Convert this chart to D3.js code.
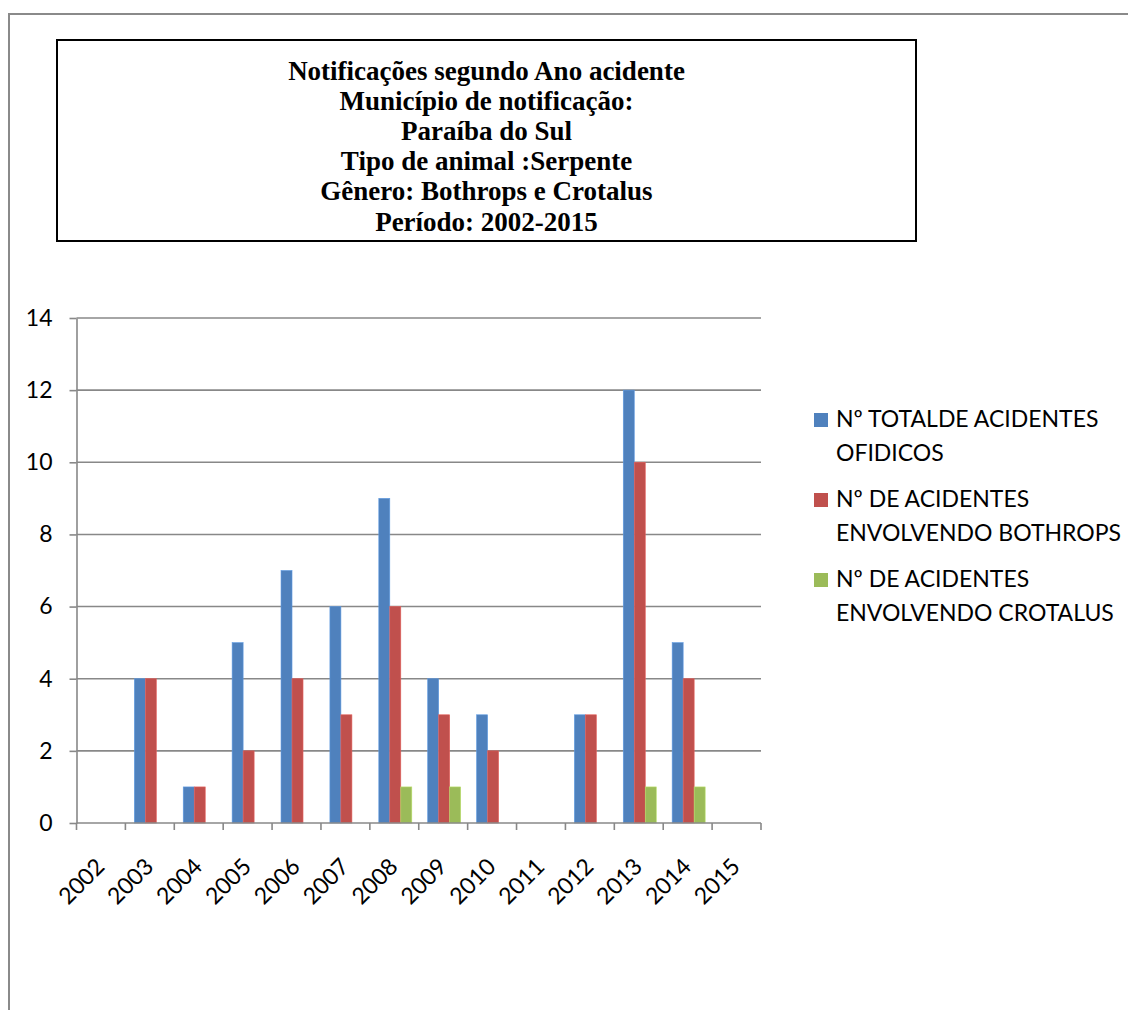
<!DOCTYPE html>
<html>
<head>
<meta charset="utf-8">
<script src="https://cdn.jsdelivr.net/npm/d3@7"></script>
<style>
  html, body { margin: 0; padding: 0; background: #fff; }
  svg { display: block; }
</style>
</head>
<body>
<svg id="chart" width="1128" height="1010"></svg>
<script>
// Chart data
const years = ["2002","2003","2004","2005","2006","2007","2008","2009","2010","2011","2012","2013","2014","2015"];
const totalOfidicos = [0, 4, 1, 5, 7, 6, 9, 4, 3, 0, 3, 12, 5, 0];
const bothrops      = [0, 4, 1, 2, 4, 3, 6, 3, 2, 0, 3, 10, 4, 0];
const crotalus      = [0, 0, 0, 0, 0, 0, 1, 1, 0, 0, 0, 1, 1, 0];
const seriesNames = [
  ["Nº TOTALDE ACIDENTES", "OFIDICOS"],
  ["Nº DE ACIDENTES", "ENVOLVENDO BOTHROPS"],
  ["Nº DE ACIDENTES", "ENVOLVENDO CROTALUS"]
];
const seriesColors = ["#4F81BD", "#C0504D", "#9BBB59"];
const yTicks = [0, 2, 4, 6, 8, 10, 12, 14];
const titleLines = [
  "Notificações segundo Ano acidente",
  "Município de notificação:",
  "Paraíba do Sul",
  "Tipo de animal :Serpente",
  "Gênero: Bothrops e Crotalus",
  "Período: 2002-2015"
];

const series = [totalOfidicos, bothrops, crotalus];
const svg = d3.select("#chart");
const labelFont = "Lato, 'Open Sans', sans-serif";
const labelSize = 23;

// Outer frame (top and left edges visible)
svg.append("path")
  .attr("d", "M9,1010 V14 H1128")
  .attr("fill", "none")
  .attr("stroke", "#8a8a8a")
  .attr("stroke-width", 2);

// Title box
svg.append("rect")
  .attr("x", 57).attr("y", 40).attr("width", 859).attr("height", 201)
  .attr("fill", "#fff").attr("stroke", "#000").attr("stroke-width", 2);

// Title lines in bold serif
svg.append("g").selectAll("text").data(titleLines).join("text")
  .attr("x", 486.5)
  .attr("y", (d, i) => 79.5 + i * 30.2)
  .attr("text-anchor", "middle")
  .attr("font-family", "'Liberation Serif', 'Times New Roman', serif")
  .attr("font-weight", "bold")
  .attr("font-size", 27)
  .attr("fill", "#000")
  .text(d => d);

// Plot area
const plot = { left: 76.5, right: 761, top: 318, bottom: 823 };

const x = d3.scaleBand()
  .domain(years)
  .range([plot.left, plot.right])
  .paddingInner(0)
  .paddingOuter(0);

const barW = x.bandwidth() * 0.225;
const y = d3.scaleLinear().domain([0, 14]).range([plot.bottom, plot.top]);

// Horizontal gridlines
svg.append("g").selectAll("line").data(yTicks.filter(t => t > 0)).join("line")
  .attr("x1", plot.left).attr("x2", plot.right)
  .attr("y1", d => y(d)).attr("y2", d => y(d))
  .attr("stroke", "#888").attr("stroke-width", 1.6);

// Bars
const groupW = barW * 3;
series.forEach((vals, si) => {
  svg.append("g").selectAll("rect").data(vals.map((v, i) => ({ v, year: years[i] })))
    .join("rect")
    .filter(d => d.v > 0)
    .attr("x", d => x(d.year) + (x.bandwidth() - groupW) / 2 + 1 + si * barW)
    .attr("y", d => y(d.v))
    .attr("width", barW)
    .attr("height", d => y(0) - y(d.v))
    .attr("fill", seriesColors[si])
    .attr("stroke", d3.color(seriesColors[si]).brighter(0.5))
    .attr("stroke-width", 0.6);
});

// Y axis
const yAxis = svg.append("g")
  .attr("transform", `translate(${plot.left},0)`)
  .call(d3.axisLeft(y).tickValues(yTicks).tickSize(7).tickSizeOuter(0).tickPadding(17));
yAxis.select(".domain").attr("stroke", "#888").attr("stroke-width", 1.6);
yAxis.selectAll(".tick line").attr("stroke", "#888").attr("stroke-width", 1.6);
yAxis.selectAll(".tick text")
  .attr("font-family", labelFont).attr("font-size", labelSize).attr("fill", "#000");

// X axis with ticks at category boundaries
const xAxisG = svg.append("g").attr("transform", `translate(0,${plot.bottom})`);
xAxisG.append("line")
  .attr("x1", plot.left).attr("x2", plot.right)
  .attr("stroke", "#888").attr("stroke-width", 1.6);
const boundaries = d3.range(years.length + 1).map(i => plot.left + i * x.step());
xAxisG.selectAll("line.tk").data(boundaries).join("line")
  .attr("class", "tk")
  .attr("x1", d => d).attr("x2", d => d)
  .attr("y1", 0).attr("y2", 7)
  .attr("stroke", "#888").attr("stroke-width", 1.6);

xAxisG.selectAll("text").data(years).join("text")
  .attr("transform", d => `translate(${x(d) + x.bandwidth() / 2 + 5},45) rotate(-45)`)
  .attr("text-anchor", "end")
  .attr("font-family", labelFont)
  .attr("font-size", labelSize)
  .attr("fill", "#000")
  .text(d => d);

// Legend
const legend = svg.append("g");
const legendBase = [427, 507, 587];
seriesNames.forEach((lines, i) => {
  legend.append("rect")
    .attr("x", 814).attr("y", legendBase[i] - 14)
    .attr("width", 14).attr("height", 14)
    .attr("fill", seriesColors[i]);
  lines.forEach((ln, j) => {
    legend.append("text")
      .attr("x", 836).attr("y", legendBase[i] + j * 33.5)
      .attr("font-family", labelFont)
      .attr("font-size", labelSize)
      .attr("fill", "#000")
      .text(ln);
  });
});
</script>
</body>
</html>
